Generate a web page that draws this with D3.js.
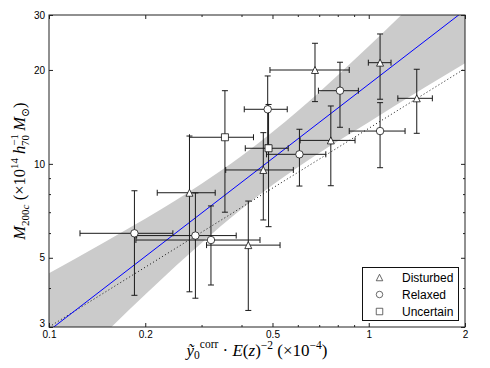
<!DOCTYPE html>
<html>
<head>
<meta charset="utf-8">
<script src="https://cdn.jsdelivr.net/npm/d3@7"></script>
<style>
  body { margin: 0; background: #fff; }
  text { font-family: "Liberation Sans", Arial, sans-serif; }
  .math { font-family: "Liberation Serif", "DejaVu Serif", serif; }
</style>
</head>
<body>
<div id="chart"></div>
<script>
// each point: [x, xlo, xhi, y, ylo, yhi]
const disturbed = [
  [0.275, 0.218, 0.331, 8.08, 3.89, 12.28],
  [0.420, 0.311, 0.528, 5.49, 3.39, 7.60],
  [0.468, 0.357, 0.581, 9.56, 6.61, 12.59],
  [0.761, 0.610, 0.906, 11.89, 8.51, 15.33],
  [0.679, 0.491, 0.869, 19.99, 15.83, 24.35],
  [1.085, 0.997, 1.174, 21.10, 16.11, 26.08],
  [1.413, 1.233, 1.581, 16.22, 12.53, 20.10]
];
const relaxed = [
  [0.185, 0.125, 0.244, 5.99, 3.79, 8.20],
  [0.287, 0.188, 0.385, 5.89, 3.71, 8.07],
  [0.321, 0.187, 0.457, 5.70, 4.09, 7.33],
  [0.483, 0.408, 0.556, 14.96, 11.5, 19.13],
  [0.813, 0.696, 0.928, 17.16, 13.10, 21.17],
  [1.085, 0.869, 1.299, 12.74, 9.72, 15.71],
  [0.607, 0.479, 0.734, 10.73, 8.49, 12.91]
];
const uncertain = [
  [0.355, 0.275, 0.436, 12.17, 7.00, 17.16],
  [0.486, 0.411, 0.560, 11.22, 6.29, 15.5]
];

// confidence band of the fit
const bandX = [0.1, 0.12, 0.15, 0.2, 0.25, 0.3, 0.4, 0.5, 0.6, 0.7, 0.8, 1.0, 1.2, 1.5, 2.0];
const bandLo = [1.91, 2.29, 2.87, 3.81, 4.72, 5.58, 7.17, 8.55, 9.76, 10.84, 11.82, 13.6, 15.3, 17.6, 21.0];
const bandHi = [4.46, 4.95, 5.63, 6.67, 7.66, 8.64, 10.6, 12.64, 14.78, 16.97, 19.22, 23.81, 28.48, 35.57, 47.56];

// best fit (blue) and self-similar (dotted) lines
const fitX = [0.1, 2];
const fitY = [2.92, 31.1];
const selfX = [0.1, 2];
const selfY = [3.0, 20.2];

const xMajor = [0.1, 0.2, 0.5, 1, 2];
const xMinor = [0.3, 0.4, 0.6, 0.7, 0.8, 0.9];
const yMajor = [3, 5, 10, 20, 30];
const yMinor = [4, 6, 7, 8, 9];

const legendLabels = ['Disturbed', 'Relaxed', 'Uncertain'];

const W = 490, H = 368;
const margin = { top: 15, right: 25, bottom: 41, left: 49 };
const iw = W - margin.left - margin.right;
const ih = H - margin.top - margin.bottom;

const svg = d3.select('#chart').append('svg').attr('width', W).attr('height', H);
const g = svg.append('g').attr('transform', 'translate(' + margin.left + ',' + margin.top + ')');

const x = d3.scaleLog().domain([0.1, 2]).range([0, iw]);
const y = d3.scaleLog().domain([3, 30]).range([ih, 0]);

g.append('clipPath').attr('id', 'clip')
  .append('rect').attr('width', iw).attr('height', ih);

const plot = g.append('g').attr('clip-path', 'url(#clip)');

// band
const band = bandX.map((d, i) => ({ x: d, lo: bandLo[i], hi: bandHi[i] }));
plot.append('path')
  .datum(band)
  .attr('fill', '#cbcbcb')
  .attr('d', d3.area().curve(d3.curveMonotoneX)
    .x(d => x(d.x)).y0(d => y(d.lo)).y1(d => y(d.hi)));

const line = d3.line().x(d => x(d[0])).y(d => y(d[1]));
plot.append('path')
  .datum(selfX.map((d, i) => [d, selfY[i]]))
  .attr('fill', 'none').attr('stroke', '#111').attr('stroke-width', 1)
  .attr('stroke-dasharray', '1,2.5')
  .attr('d', line);
plot.append('path')
  .datum(fitX.map((d, i) => [d, fitY[i]]))
  .attr('fill', 'none').attr('stroke', '#0000ff').attr('stroke-width', 1)
  .attr('d', line);

// error bars
const all = disturbed.concat(relaxed, uncertain);
const cap = 3;
const eb = g.append('g').attr('stroke', '#1a1a1a').attr('stroke-width', 1).attr('fill', 'none');
all.forEach(p => {
  const cx = x(p[0]), cy = y(p[3]);
  const x0 = x(p[1]), x1 = x(p[2]), y0 = y(p[4]), y1 = y(p[5]);
  eb.append('path').attr('d',
    'M' + x0 + ',' + cy + 'H' + x1 +
    'M' + cx + ',' + y0 + 'V' + y1 +
    'M' + x0 + ',' + (cy - cap) + 'V' + (cy + cap) +
    'M' + x1 + ',' + (cy - cap) + 'V' + (cy + cap) +
    'M' + (cx - cap) + ',' + y0 + 'H' + (cx + cap) +
    'M' + (cx - cap) + ',' + y1 + 'H' + (cx + cap));
});

// markers
const shapes = {
  tri: s => 'M0,' + (-s / 2) + 'L' + (s / 2) + ',' + (s / 2) + 'L' + (-s / 2) + ',' + (s / 2) + 'Z',
  circ: s => d3.symbol(d3.symbolCircle, Math.PI * (s / 2) * (s / 2))(),
  sq: s => 'M' + (-s / 2) + ',' + (-s / 2) + 'h' + s + 'v' + s + 'h' + (-s) + 'Z'
};
const groups = [
  { data: disturbed, shape: 'tri', size: 7 },
  { data: relaxed, shape: 'circ', size: 7.5 },
  { data: uncertain, shape: 'sq', size: 7 }
];
groups.forEach(gr => {
  g.append('g').selectAll('path').data(gr.data).join('path')
    .attr('transform', d => 'translate(' + x(d[0]) + ',' + y(d[3]) + ')')
    .attr('d', shapes[gr.shape](gr.size))
    .attr('fill', '#fff').attr('stroke', '#111').attr('stroke-width', 0.8);
});

// axes
const fmt = d => String(d);
function styleAxis(sel) {
  sel.select('.domain').remove();
  sel.selectAll('line').attr('stroke', '#222');
  sel.selectAll('text').attr('font-size', 10).attr('fill', '#000')
    .attr('font-family', '"Liberation Sans", Arial, sans-serif');
}
g.append('g').attr('transform', 'translate(0,' + ih + ')')
  .call(d3.axisBottom(x).tickValues(xMajor).tickFormat(fmt).tickSizeInner(-4).tickSizeOuter(0).tickPadding(4))
  .call(styleAxis);
g.append('g').attr('transform', 'translate(0,' + ih + ')')
  .call(d3.axisBottom(x).tickValues(xMinor).tickFormat('').tickSizeInner(-2).tickSizeOuter(0))
  .call(styleAxis);
g.append('g')
  .call(d3.axisTop(x).tickValues(xMajor).tickFormat('').tickSizeInner(-4).tickSizeOuter(0))
  .call(styleAxis);
g.append('g')
  .call(d3.axisTop(x).tickValues(xMinor).tickFormat('').tickSizeInner(-2).tickSizeOuter(0))
  .call(styleAxis);
const yAx = g.append('g')
  .call(d3.axisLeft(y).tickValues(yMajor).tickFormat(fmt).tickSizeInner(-4).tickSizeOuter(0).tickPadding(4))
  .call(styleAxis);
// the lowest label sits just above the corner so it clears "0.1"
yAx.selectAll('.tick').filter(d => d === 3).select('text').attr('dy', '-0.05em');
g.append('g')
  .call(d3.axisLeft(y).tickValues(yMinor).tickFormat('').tickSizeInner(-2).tickSizeOuter(0))
  .call(styleAxis);
g.append('g').attr('transform', 'translate(' + iw + ',0)')
  .call(d3.axisRight(y).tickValues(yMajor).tickFormat('').tickSizeInner(-4).tickSizeOuter(0))
  .call(styleAxis);
g.append('g').attr('transform', 'translate(' + iw + ',0)')
  .call(d3.axisRight(y).tickValues(yMinor).tickFormat('').tickSizeInner(-2).tickSizeOuter(0))
  .call(styleAxis);

g.append('rect').attr('width', iw).attr('height', ih)
  .attr('fill', 'none').attr('stroke', '#222').attr('stroke-width', 1);

// axis labels
function addParts(t, parts) {
  parts.forEach(p => {
    const ts = t.append('tspan').text(p.t);
    if (p.it) ts.attr('font-style', 'italic');
    if (p.fs) ts.attr('font-size', p.fs);
    if (p.dy) ts.attr('dy', p.dy);
    if (p.dx) ts.attr('dx', p.dx);
  });
}
const xl = svg.append('text').attr('class', 'math')
  .attr('x', margin.left + iw / 2).attr('y', 356)
  .attr('text-anchor', 'middle').attr('font-size', 17);
addParts(xl, [
  { t: 'ỹ', it: true },
  { t: '0', fs: 11.5, dy: 3 },
  { t: 'corr', fs: 11.5, dy: -11 },
  { t: ' · ', dy: 8 },
  { t: 'E', it: true }, { t: '(' }, { t: 'z', it: true }, { t: ')' },
  { t: '−2', fs: 11.5, dy: -7 },
  { t: ' (×10', dy: 7 },
  { t: '−4', fs: 11.5, dy: -7 },
  { t: ')', dy: 7 }
]);

const yl = svg.append('text').attr('class', 'math')
  .attr('transform', 'translate(25,' + (margin.top + ih / 2) + ') rotate(-90)')
  .attr('text-anchor', 'middle').attr('font-size', 16.5);
addParts(yl, [
  { t: 'M', it: true },
  { t: '200', fs: 11, dy: 3.5 },
  { t: 'c', fs: 11, it: true },
  { t: ' (×10', dy: -3.5 },
  { t: '14', fs: 11, dy: -7 },
  { t: ' h', dy: 7, it: true },
  { t: '−1', fs: 11, dy: -7 },
  { t: '70', fs: 11, dy: 11, dx: -12 },
  { t: ' M', dy: -4, it: true },
  { t: '⊙', fs: 11, dy: 3.5 },
  { t: ')', dy: -3.5 }
]);

// legend
const lg = svg.append('g').attr('transform', 'translate(362.5,267.5)');
lg.append('rect').attr('width', 96).attr('height', 53)
  .attr('fill', '#fff').attr('stroke', '#111').attr('stroke-width', 1);
['tri', 'circ', 'sq'].forEach((s, i) => {
  const row = lg.append('g').attr('transform', 'translate(0,' + (10 + i * 17) + ')');
  row.append('path').attr('transform', 'translate(17,0)')
    .attr('d', shapes[s](6.5))
    .attr('fill', '#fff').attr('stroke', '#444').attr('stroke-width', 0.8);
  row.append('text').attr('x', 39.5).attr('y', 4.5)
    .attr('font-size', 12).text(legendLabels[i]);
});
</script>
</body>
</html>
